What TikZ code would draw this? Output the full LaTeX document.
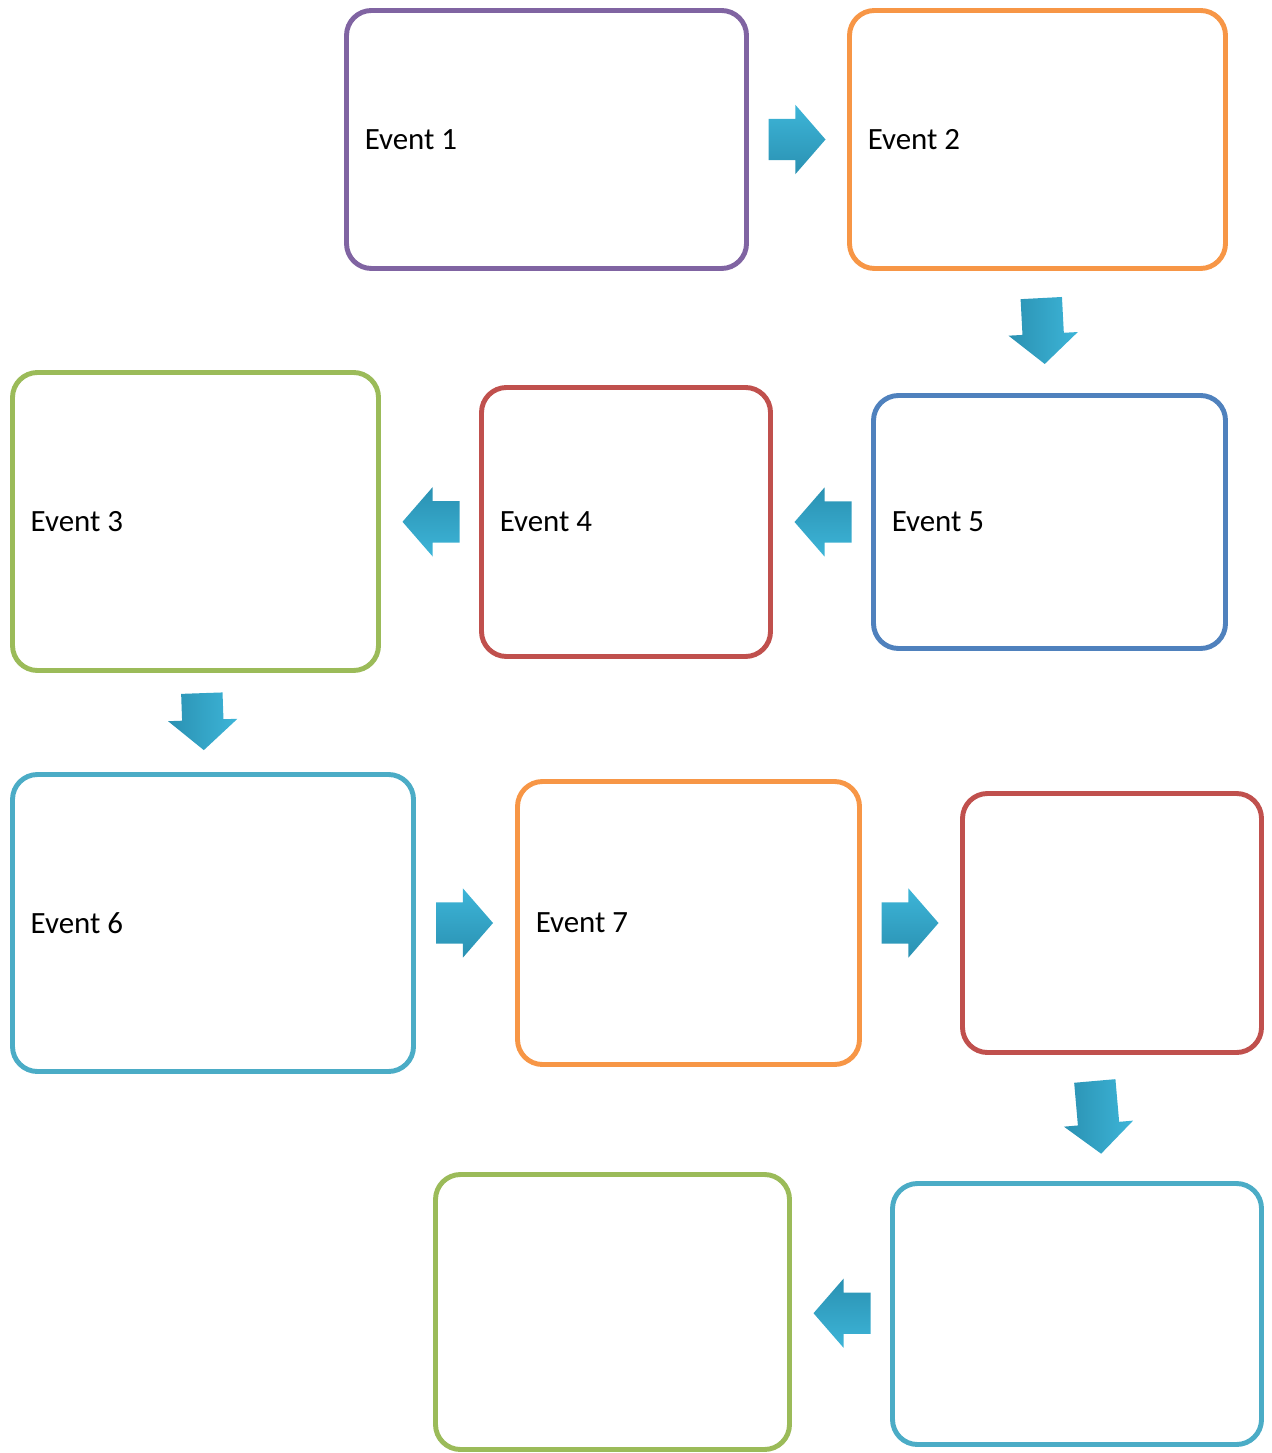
\documentclass[tikz,border=0pt]{standalone}
\usepackage{fontspec}
\setmainfont{Carlito}
\usetikzlibrary{shapes.arrows,calc}

\definecolor{evpurple}{HTML}{8064A2}
\definecolor{evorange}{HTML}{F79646}
\definecolor{evblue}{HTML}{4F81BD}
\definecolor{evred}{HTML}{C0504D}
\definecolor{evgreen}{HTML}{9BBB59}
\definecolor{evcyan}{HTML}{4BACC6}
\definecolor{flowlight}{HTML}{3DB5D8}
\definecolor{flowdark}{HTML}{2A91B2}

\begin{document}
\begin{tikzpicture}[
    evbox/.style={draw=#1, line width=1.4pt, rounded corners=0.25cm, inner sep=0pt},
    evlabel/.style={anchor=west, inner sep=0pt, xshift=0.20cm,
                    font=\fontsize{8.8}{10.5}\selectfont},
    flow/.style={single arrow, single arrow head extend=0.14cm,
                 single arrow tip angle=98, inner xsep=0pt, inner ysep=0.2cm,
                 minimum height=0.57cm},
    flowright/.style={flow, top color=flowlight, bottom color=flowdark},
    flowleft/.style={flow, rotate=180, top color=flowdark, bottom color=flowlight},
    flowdown/.style={flow, rotate=#1, left color=flowdark, right color=flowlight}
  ]
    \useasboundingbox (0, 0) rectangle (12.71, -14.53);

    % Top row
    \node [evbox=evpurple, minimum width=4.00cm, minimum height=2.58cm,
           label={[evlabel]west:Event 1}] (e1) at (5.465, -1.395) {};
    \node [evbox=evorange, minimum width=3.76cm, minimum height=2.58cm,
           label={[evlabel]west:Event 2}] (e2) at (10.375, -1.395) {};

    % Second row
    \node [evbox=evblue, minimum width=3.52cm, minimum height=2.53cm,
           label={[evlabel]west:Event 5}] (e5) at (10.495, -5.22) {};
    \node [evbox=evred, minimum width=2.89cm, minimum height=2.69cm,
           label={[evlabel]west:Event 4}] (e4) at (6.26, -5.22) {};
    \node [evbox=evgreen, minimum width=3.66cm, minimum height=2.98cm,
           label={[evlabel]west:Event 3}] (e3) at (1.955, -5.215) {};

    % Third row
    \node [evbox=evcyan, minimum width=4.01cm, minimum height=2.97cm,
           label={[evlabel]west:Event 6}] (e6) at (2.13, -9.23) {};
    \node [evbox=evorange, minimum width=3.42cm, minimum height=2.83cm,
           label={[evlabel]west:Event 7}] (e7) at (6.885, -9.23) {};
    \node [evbox=evred, minimum width=2.99cm, minimum height=2.59cm] (e8) at (11.12, -9.23) {};

    % Bottom row
    \node [evbox=evcyan, minimum width=3.69cm, minimum height=2.61cm] (e9) at (10.77, -13.14) {};
    \node [evbox=evgreen, minimum width=3.54cm, minimum height=2.75cm] (e10) at (6.125, -13.12) {};

    % Arrows (pulled back a little, the shape centre sits nearer the tip)
    \node [flowright] (a12) at ($ ($(e1.east)!0.5!(e2.west)$) !0.1cm! (e1.east) $) {};
    \node [flowdown=-87, minimum height=0.66cm] (a25) at ($ ($(e2.south)!0.5!(e5.north)$) !0.1cm! (e2.south) $) {};
    \node [flowleft] (a54) at ($ ($(e5.west)!0.5!(e4.east)$) !0.1cm! (e5.west) $) {};
    \node [flowleft] (a43) at ($ ($(e4.west)!0.5!(e3.east)$) !0.1cm! (e4.west) $) {};
    \node [flowdown=-88] (a36) at ($ ($(e3.south)!0.5!(e6.north)$) !0.1cm! (e3.south) $) {};
    \node [flowright] (a67) at ($ ($(e6.east)!0.5!(e7.west)$) !0.1cm! (e6.east) $) {};
    \node [flowright] (a78) at ($ ($(e7.east)!0.5!(e8.west)$) !0.1cm! (e7.east) $) {};
    \node [flowdown=-85, minimum height=0.73cm] (a89) at ($ ($(e8.south)!0.5!(e9.north)$) !0.1cm! (e8.south) $) {};
    \node [flowleft] (a910) at ($ ($(e9.west)!0.5!(e10.east)$) !0.1cm! (e9.west) $) {};
\end{tikzpicture}
\end{document}
